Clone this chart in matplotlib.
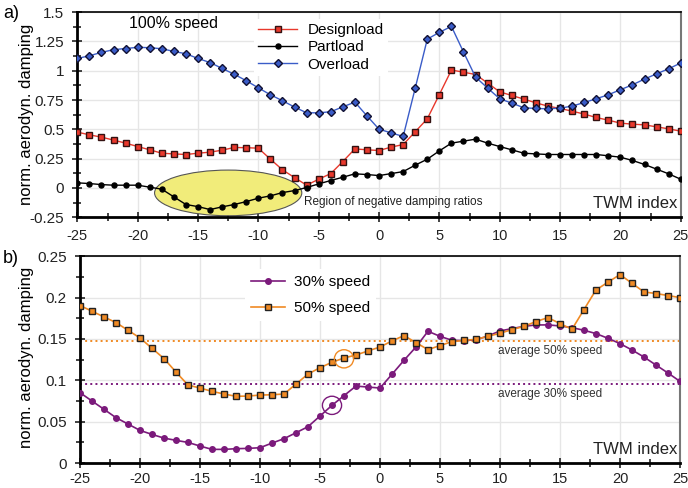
import numpy as np
import matplotlib
matplotlib.use('Agg')
import matplotlib.pyplot as plt
from matplotlib.patches import Ellipse
from matplotlib.ticker import MultipleLocator

# --- data ---
TWM = list(range(-25, 26))

designload = [0.476, 0.453, 0.433, 0.408, 0.382, 0.353, 0.325, 0.296, 0.290, 0.285,
              0.296, 0.305, 0.322, 0.345, 0.343, 0.339, 0.245, 0.154, 0.088, 0.023,
              0.074, 0.122, 0.225, 0.333, 0.325, 0.319, 0.348, 0.370, 0.479, 0.590,
              0.797, 1.006, 0.988, 0.968, 0.895, 0.820, 0.789, 0.758, 0.726, 0.698,
              0.678, 0.655, 0.630, 0.601, 0.578, 0.553, 0.544, 0.538, 0.521, 0.504,
              0.484]
partload = [0.043, 0.037, 0.028, 0.023, 0.023, 0.023, 0.006, -0.011, -0.077, -0.142,
            -0.160, -0.185, -0.162, -0.142, -0.117, -0.088, -0.068, -0.040, -0.023, 0.003,
            0.034, 0.063, 0.091, 0.120, 0.114, 0.105, 0.122, 0.139, 0.194, 0.245,
            0.316, 0.382, 0.399, 0.416, 0.382, 0.353, 0.325, 0.296, 0.290, 0.285,
            0.285, 0.285, 0.285, 0.285, 0.274, 0.262, 0.234, 0.200, 0.160, 0.120,
            0.074]
overload = [1.105, 1.128, 1.157, 1.180, 1.190, 1.200, 1.197, 1.188, 1.165, 1.145,
            1.105, 1.070, 1.020, 0.970, 0.915, 0.854, 0.795, 0.744, 0.690, 0.641,
            0.641, 0.650, 0.692, 0.732, 0.615, 0.501, 0.470, 0.439, 0.852, 1.270,
            1.328, 1.379, 1.160, 0.946, 0.852, 0.761, 0.724, 0.684, 0.678, 0.675,
            0.681, 0.698, 0.729, 0.761, 0.795, 0.838, 0.880, 0.929, 0.974, 1.017,
            1.066]

speed30 = [0.0851, 0.0750, 0.0650, 0.0549, 0.0472, 0.0395, 0.0347, 0.0302, 0.0275, 0.0250,
           0.0206, 0.0166, 0.0166, 0.0174, 0.0178, 0.0186, 0.0242, 0.0295, 0.0367, 0.0440,
           0.0569, 0.0698, 0.0815, 0.0931, 0.0919, 0.0907, 0.1073, 0.1242, 0.1403, 0.1593,
           0.1532, 0.1484, 0.1480, 0.1490, 0.1536, 0.1597, 0.1625, 0.1653, 0.1669, 0.1670,
           0.1657, 0.1637, 0.1605, 0.1565, 0.1508, 0.1444, 0.1367, 0.1282, 0.1185, 0.1089,
           0.0988]
speed50 = [0.1904, 0.1835, 0.1766, 0.1698, 0.1605, 0.1512, 0.1387, 0.1263, 0.1100, 0.0943,
           0.0907, 0.0867, 0.0835, 0.0807, 0.0810, 0.0822, 0.0826, 0.0835, 0.0955, 0.1076,
           0.1153, 0.1218, 0.1270, 0.1306, 0.1355, 0.1403, 0.1476, 0.1541, 0.1456, 0.1371,
           0.1420, 0.1468, 0.1482, 0.1496, 0.1532, 0.1569, 0.1613, 0.1653, 0.1710, 0.1758,
           0.1686, 0.1617, 0.1855, 0.2092, 0.2186, 0.2278, 0.2173, 0.2068, 0.2049, 0.2025,
           0.2000]
avg30 = 0.0952
avg50 = 0.1476
highlight = [(-4, 0.0698, '#7b1a7b'), (-3, 0.1260, '#f08a24')]

plt.rcParams['font.family'] = ['Liberation Sans', 'DejaVu Sans']
plt.rcParams['axes.unicode_minus'] = False

RED = '#e8382c'
BLUE = '#3a5cc8'
PURPLE = '#7b1a7b'
ORANGE = '#f08a24'


def style_axes(ax, xpad):
    ax.set_xlim(-25, 25)
    ax.xaxis.set_major_locator(MultipleLocator(5))
    ax.xaxis.set_minor_locator(MultipleLocator(2.5))
    ax.tick_params(which='both', direction='inout', length=7, width=1.2,
                   labelsize=11, colors='#222222', pad=6)
    ax.tick_params(which='minor', length=6)
    ax.tick_params(axis='x', pad=xpad, labelsize=10.5)
    ax.grid(True, which='major', color='#e6e6e6', lw=1)
    ax.set_axisbelow(True)
    for s in ('left', 'bottom'):
        ax.spines[s].set_linewidth(2)
        ax.spines[s].set_color('black')
    ax.spines['top'].set_linewidth(1.2)
    ax.spines['right'].set_linewidth(1.5)
    ax.spines['right'].set_color('#777777')
    ax.text(0.995, 0.03, 'TWM index', transform=ax.transAxes, ha='right',
            va='bottom', fontsize=12, color='#222222')


fig = plt.figure(figsize=(6.88, 4.88), dpi=100)
a1 = fig.add_axes([0.1124, 0.555, 0.877, 0.420])
a2 = fig.add_axes([0.1163, 0.051, 0.872, 0.424])

# --- top: 100% speed ---
style_axes(a1, 5)
a1.set_ylim(-0.25, 1.5)
a1.yaxis.set_minor_locator(MultipleLocator(0.125))
a1.set_yticks([1.5, 1.25, 1, 0.75, 0.5, 0.25, 0, -0.25])
a1.set_yticklabels(['1.5', '1.25', '1', '0.75', '0.5', '0.25', '0', '-0.25'])
a1.add_patch(Ellipse((-12.5, -0.043), 12.2, 0.39, fc='#f1ec7a', ec='#555555',
                     lw=0.8, zorder=1))
a1.plot(TWM, designload, '-s', color=RED, mfc=RED, mec='#331111', ms=4.3, lw=1,
        label='Designload', zorder=3)
a1.plot(TWM, partload, '-o', color='black', ms=3.6, lw=1, label='Partload', zorder=3)
a1.plot(TWM, overload, '-D', color=BLUE, mfc=BLUE, mec='#111133', ms=4.5, lw=1,
        label='Overload', zorder=3)
a1.text(-17, 1.40, '100% speed', ha='center', va='center', fontsize=11.5)
a1.text(-6.2, -0.12, 'Region of negative damping ratios', fontsize=8.5,
        va='center', color='#222222')
lg = a1.legend(loc='upper left', bbox_to_anchor=(0.28, 1.005), frameon=True,
               fontsize=11, handlelength=2.5, borderpad=0.3, labelspacing=0.2,
               handletextpad=0.7)
lg.get_frame().set_edgecolor('none')
lg.get_frame().set_alpha(1)

# --- bottom: 30% / 50% speed ---
style_axes(a2, 3)
a2.set_ylim(0, 0.25)
a2.yaxis.set_minor_locator(MultipleLocator(0.025))
a2.set_yticks([0, 0.05, 0.1, 0.15, 0.2, 0.25])
a2.set_yticklabels(['0', '0.05', '0.1', '0.15', '0.2', '0.25'])
a2.axhline(avg50, color=ORANGE, ls=':', lw=1.4, zorder=2)
a2.axhline(avg30, color=PURPLE, ls=':', lw=1.4, zorder=2)
a2.text(9.8, avg50 - 0.0045, 'average 50% speed', fontsize=8.5, va='top', color='#333333')
a2.text(9.8, avg30 - 0.0045, 'average 30% speed', fontsize=8.5, va='top', color='#333333')
a2.plot(TWM, speed30, '-o', color=PURPLE, mfc=PURPLE, mec=PURPLE, ms=4, lw=1.2,
        label='30% speed', zorder=3)
a2.plot(TWM, speed50, '-s', color=ORANGE, mfc=ORANGE, mec='#222222', ms=4.3, lw=1.2,
        label='50% speed', zorder=3)
for (hx, hy, hc) in highlight:
    a2.add_patch(Ellipse((hx, hy), 1.6, 0.022, fc='none', ec=hc, lw=1, zorder=4))
lg2 = a2.legend(loc='upper left', bbox_to_anchor=(0.262, 0.975), frameon=True,
                fontsize=11, handlelength=2.2, borderpad=0.4, labelspacing=0.8,
                handletextpad=0.6)
lg2.get_frame().set_edgecolor('none')
lg2.get_frame().set_alpha(1)

fig.text(0.038, 0.765, 'norm. aerodyn. damping', rotation=90, ha='center',
         va='center', fontsize=12)
fig.text(0.038, 0.268, 'norm. aerodyn. damping', rotation=90, ha='center',
         va='center', fontsize=12)
fig.text(0.004, 0.972, 'a)', fontsize=13, va='center')
fig.text(0.004, 0.47, 'b)', fontsize=13, va='center')

fig.savefig('out.png', dpi=100)
